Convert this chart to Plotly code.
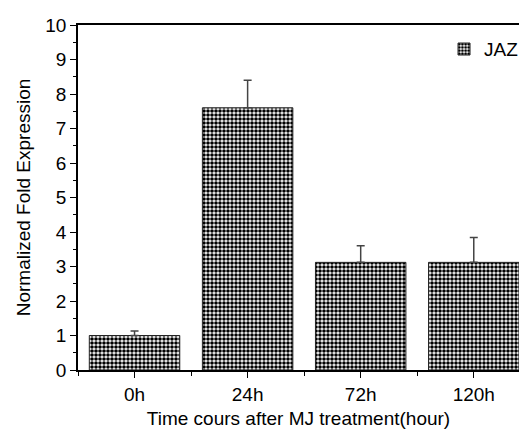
import plotly.graph_objects as go

categories = ["0h", "24h", "72h", "120h"]
values = [1.0, 7.6, 3.12, 3.12]
errors = [0.13, 0.8, 0.48, 0.72]
series_name = "JAZ"

FONT = "Liberation Sans, Arial, sans-serif"
x_pos = list(range(len(categories)))

fig = go.Figure()
fig.add_trace(go.Bar(
    x=x_pos, y=values, name=series_name, width=0.8,
    marker=dict(color="white",
                line=dict(color="#222222", width=1),
                pattern=dict(shape=".", size=4, solidity=0.65,
                             fgcolor="black", bgcolor="white", fillmode="replace")),
    error_y=dict(type="data", array=errors, arrayminus=[0]*len(errors), symmetric=False,
                 color="#444444", thickness=1.5, width=4),
    showlegend=True,
))

fig.update_layout(
    width=519, height=434,
    margin=dict(l=78, r=0, t=25, b=64, autoexpand=False),
    plot_bgcolor="white", paper_bgcolor="white",
    font=dict(family=FONT, size=19, color="black"),
    bargap=0.2,
    showlegend=True,
    legend=dict(x=0.83, y=0.985, xanchor="left", yanchor="top",
                bgcolor="rgba(0,0,0,0)", font=dict(size=19)),
    xaxis=dict(
        range=[-0.5, 3.4], automargin=False,
        tickmode="array", tickvals=x_pos, ticktext=categories,
        ticks="outside", ticklen=6, tickwidth=1, tickcolor="black",
        showline=True, linecolor="black", linewidth=1.5, mirror=True,
        showgrid=False, zeroline=False,
        minor=dict(tickmode="array", tickvals=[-0.5, 0.5, 1.5, 2.5],
                   ticks="outside", ticklen=4, tickcolor="black"),
        title=dict(text="Time cours after MJ treatment(hour)", font=dict(size=19), standoff=8),
        tickfont=dict(size=19),
    ),
    yaxis=dict(
        range=[0, 10], automargin=False,
        tickmode="linear", tick0=0, dtick=1,
        ticks="outside", ticklen=6, tickwidth=1, tickcolor="black",
        showline=True, linecolor="black", linewidth=1.5, mirror=False,
        showgrid=False, zeroline=False,
        minor=dict(dtick=0.5, ticks="outside", ticklen=3, tickcolor="black"),
        title=dict(text="Normalized Fold Expression", font=dict(size=19), standoff=10),
        tickfont=dict(size=19),
    ),
)

fig.write_html("out.html", config={"displayModeBar": False},
               post_script="document.body.style.margin='0';")
